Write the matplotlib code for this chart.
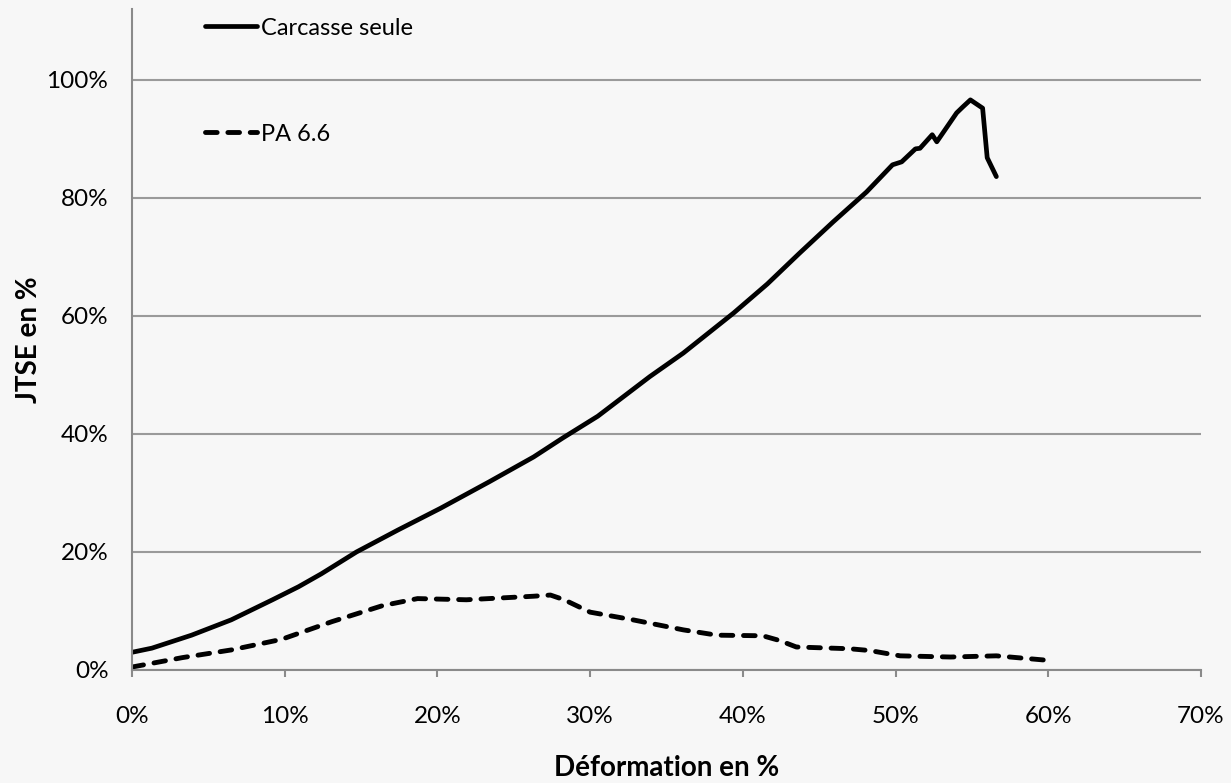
import matplotlib
matplotlib.use('Agg')
import matplotlib.pyplot as plt
from matplotlib.ticker import PercentFormatter

plt.rcParams['font.family'] = ['Lato', 'DejaVu Sans']

# Carcasse seule (deformation %, JTSE %)
carcasse_x = [0, 1.3, 3.9, 6.5, 9.2, 10.9, 12.4, 14.7, 17.4, 20.2, 23.4, 26.3,
              28.2, 30.5, 33.9, 36.1, 39.4, 41.6, 43.7, 45.9, 48.1, 49.8, 50.4,
              51.3, 51.6, 52.4, 52.7, 54.0, 54.4, 54.9, 55.7, 56.0, 56.6]
carcasse_y = [3.0, 3.7, 5.9, 8.5, 11.9, 14.1, 16.3, 20.0, 23.7, 27.4, 31.9, 36.1,
              39.3, 43.0, 49.7, 53.7, 60.5, 65.4, 70.6, 75.9, 81.0, 85.6, 86.1,
              88.3, 88.4, 90.7, 89.5, 94.4, 95.4, 96.6, 95.2, 86.8, 83.6]

# PA 6.6
pa_x = [0, 3.3, 6.5, 9.8, 13.1, 16.4, 18.7, 21.9, 26.3, 27.4, 28.3, 30.0, 32.8,
        36.1, 38.3, 41.3, 42.4, 43.5, 47.0, 48.3, 50.3, 53.6, 56.6, 59.7]
pa_y = [0.5, 2.1, 3.4, 5.2, 8.2, 10.9, 12.1, 11.9, 12.5, 12.7, 11.9, 9.8, 8.5,
        6.8, 5.9, 5.8, 5.0, 3.9, 3.6, 3.3, 2.4, 2.2, 2.4, 1.7]

x_ticks = [0, 10, 20, 30, 40, 50, 60, 70]
y_ticks = [0, 20, 40, 60, 80, 100]

bg = '#f7f7f7'
fig = plt.figure(figsize=(12.31, 7.83), dpi=100, facecolor=bg)
ax = fig.add_axes([132/1231, 1-670/783, 1069/1231, 661/783])
ax.set_facecolor(bg)

ax.plot(carcasse_x, carcasse_y, color='black', lw=3.4, label='Carcasse seule',
        solid_joinstyle='round', solid_capstyle='round')
ax.plot(pa_x, pa_y, color='black', lw=3.5, linestyle=(0, (2.4, 2.2)),
        dash_capstyle='round', dash_joinstyle='round', label='PA 6.6')

ax.set_xlim(0, 70)
ax.set_ylim(0, 112)
ax.set_xticks(x_ticks)
ax.set_yticks(y_ticks)
ax.xaxis.set_major_formatter(PercentFormatter(decimals=0))
ax.yaxis.set_major_formatter(PercentFormatter(decimals=0))

ax.grid(axis='y', color='#9a9a9a', lw=1.5)
ax.set_axisbelow(True)
for s in ['top', 'right']:
    ax.spines[s].set_visible(False)
for s in ['left', 'bottom']:
    ax.spines[s].set_color('#8a8a8a')
    ax.spines[s].set_linewidth(1.5)

ax.tick_params(axis='x', length=5, width=1.5, color='#8a8a8a', pad=21, labelsize=17.5)
ax.tick_params(axis='y', length=0, pad=17, labelsize=17.5)

ax.set_xlabel('Déformation en %', fontsize=20, fontweight='bold', labelpad=20)
ax.set_ylabel('JTSE en %', fontsize=20, fontweight='bold', labelpad=3)

ax.legend(loc='upper left', bbox_to_anchor=(0.068, 0.987), frameon=False,
          fontsize=17, handlelength=2.2, handletextpad=0.2, labelspacing=3.6,
          borderpad=0, borderaxespad=0)

plt.savefig('out.png', dpi=100, facecolor=bg)
